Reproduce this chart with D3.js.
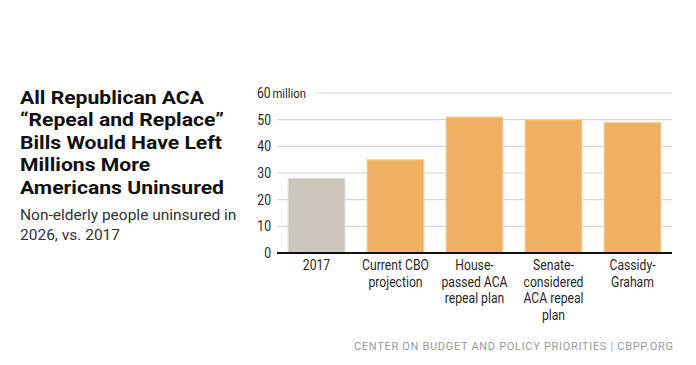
<!DOCTYPE html>
<html>
<head>
<meta charset="utf-8">
<script src="https://cdn.jsdelivr.net/npm/d3@7"></script>
<style>
  body { margin: 0; background: #fff; }
  svg { display: block; }
  .title { font-family: "Roboto", sans-serif; font-weight: 700; fill: #111; }
  .sub { font-family: "Roboto", sans-serif; fill: #333; }
  .tick text, .cat { font-family: "Roboto", sans-serif; fill: #2a2a2a; }
  .foot { font-family: "Roboto", sans-serif; fill: #9a9a9a; }
</style>
</head>
<body>
<script>
// values (millions uninsured)
var categories = ['2017', 'Current CBO projection', 'House-passed ACA repeal plan',
                  'Senate-considered ACA repeal plan', 'Cassidy-Graham'];
var catLines = [['2017'], ['Current CBO', 'projection'], ['House-', 'passed ACA', 'repeal plan'],
                ['Senate-', 'considered', 'ACA repeal', 'plan'], ['Cassidy-', 'Graham']];
var uninsured = [28, 35, 51, 50, 49];
var yTicks = [0, 10, 20, 30, 40, 50, 60];
var titleLines = ['All Republican ACA', '\u201cRepeal and Replace\u201d', 'Bills Would Have Left',
                  'Millions More', 'Americans Uninsured'];
var subLines = ['Non-elderly people uninsured in', '2026, vs. 2017'];

var W = 696, H = 365,
    narrow = 0.84; // condensed look for axis text

var svg = d3.select('body').append('svg').attr('width', W).attr('height', H);

// title block, widened a bit so the first line spans like the original
var tg = svg.append('g');
tg.selectAll('text').data(titleLines).enter().append('text')
  .attr('class', 'title')
  .attr('x', 0).attr('y', function(d, i) { return 104 + i * 22.5; })
  .style('font-size', '18.5px')
  .text(function(d) { return d; });
var tw = tg.select('text').node().getComputedTextLength();
tg.attr('transform', 'translate(20,0) scale(' + (184 / tw) + ',1)');

svg.append('g').selectAll('text').data(subLines).enter().append('text')
  .attr('class', 'sub')
  .attr('x', 20).attr('y', function(d, i) { return 219.5 + i * 20; })
  .style('font-size', '15.5px')
  .text(function(d) { return d; });

// chart
var x = d3.scaleBand().domain(categories).range([277, 672]).paddingInner(0.28).paddingOuter(0.14);
var y = d3.scaleLinear().domain([0, 60]).range([253, 93]);

var yAxis = d3.axisLeft(y).tickValues(yTicks).tickSize(0).tickPadding(6);
var gy = svg.append('g').attr('transform', 'translate(277,0)').call(yAxis);
gy.select('.domain').remove();
gy.selectAll('.tick text')
  .style('font-size', '14.5px')
  .attr('x', -6 / narrow)
  .attr('transform', 'scale(' + narrow + ',1)');
gy.selectAll('.tick').filter(function(d) { return d === 60; }).select('text')
  .attr('text-anchor', 'start').attr('x', -20 / narrow)
  .text(null).append('tspan').text('60')
  .append('tspan').attr('dx', 2).style('font-size', '13.5px').text('million');

// gridlines
svg.append('g').selectAll('line').data(yTicks.filter(function(d) { return d > 0; })).enter().append('line')
  .attr('x1', function(d) { return d === 60 ? 316 : 277; })
  .attr('x2', 672)
  .attr('y1', function(d) { return y(d); })
  .attr('y2', function(d) { return y(d); })
  .attr('stroke', '#d6d6d6').attr('stroke-width', 1.2);

// bars
svg.append('g').selectAll('rect').data(uninsured).enter().append('rect')
  .attr('x', function(d, i) { return x(categories[i]); })
  .attr('width', x.bandwidth())
  .attr('y', function(d) { return y(d); })
  .attr('height', function(d) { return y(0) - y(d); })
  .attr('fill', function(d, i) { return i === 0 ? '#cdc6bd' : '#eeb063'; })
  .attr('stroke', function(d, i) { return i === 0 ? '#e2ddd7' : '#f6d3a6'; })
  .attr('stroke-width', 1);

// baseline
svg.append('line').attr('x1', 277).attr('x2', 672).attr('y1', y(0)).attr('y2', y(0))
  .attr('stroke', '#111').attr('stroke-width', 2);

// category labels
var cg = svg.append('g').selectAll('text').data(catLines).enter().append('text')
  .attr('class', 'cat')
  .attr('text-anchor', 'middle')
  .attr('transform', function(d, i) {
    return 'translate(' + (x(categories[i]) + x.bandwidth() / 2) + ',270) scale(' + narrow + ',1)';
  })
  .style('font-size', '14.5px');
cg.selectAll('tspan').data(function(d) { return d; }).enter().append('tspan')
  .attr('x', 0)
  .attr('y', function(d, i) { return i * 16.7; })
  .text(function(d) { return d; });

// footer
svg.append('text').attr('class', 'foot')
  .attr('x', 354).attr('y', 350)
  .attr('textLength', 319).attr('lengthAdjust', 'spacing')
  .style('font-size', '11px')
  .text('CENTER ON BUDGET AND POLICY PRIORITIES | CBPP.ORG');
</script>
</body>
</html>
